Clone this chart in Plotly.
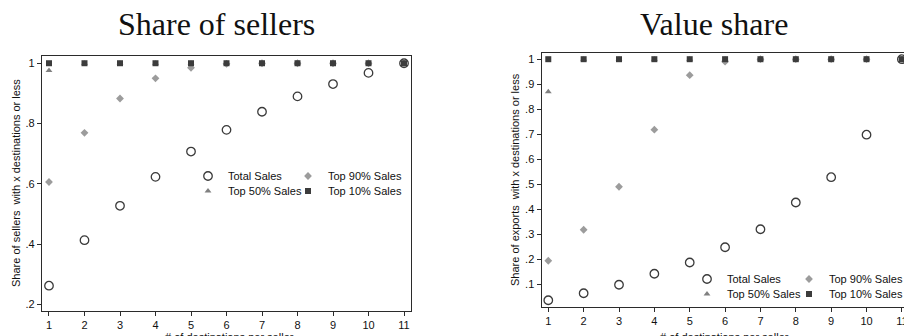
import plotly.graph_objects as go

W, H = 904, 336

# ---------------- data ----------------
x_dest = [1, 2, 3, 4, 5, 6, 7, 8, 9, 10, 11]

# Share of sellers
sell_total = [0.262, 0.413, 0.527, 0.623, 0.707, 0.779, 0.839, 0.890, 0.931, 0.968, 1.0]
sell_top90 = [0.606, 0.769, 0.883, 0.950, 0.985, 0.998, 1.0, 1.0, 1.0, 1.0, 1.0]
sell_top50 = [0.976, 1.0, 1.0, 1.0, 1.0, 1.0, 1.0, 1.0, 1.0, 1.0, 1.0]
sell_top10 = [1.0, 1.0, 1.0, 1.0, 1.0, 1.0, 1.0, 1.0, 1.0, 1.0, 1.0]

# Value share
val_total = [0.036, 0.064, 0.098, 0.142, 0.187, 0.248, 0.320, 0.427, 0.528, 0.698, 1.0]
val_top90 = [0.194, 0.318, 0.490, 0.718, 0.936, 0.990, 1.0, 1.0, 1.0, 1.0, 1.0]
val_top50 = [0.870, 1.0, 1.0, 1.0, 1.0, 1.0, 1.0, 1.0, 1.0, 1.0, 1.0]
val_top10 = [1.0, 1.0, 1.0, 1.0, 1.0, 1.0, 1.0, 1.0, 1.0, 1.0, 1.0]

series_names = ["Total Sales", "Top 90% Sales", "Top 50% Sales", "Top 10% Sales"]

left_yticks = [0.2, 0.4, 0.6, 0.8, 1.0]
left_yticktext = [".2", ".4", ".6", ".8", "1"]
right_yticks = [0.1, 0.2, 0.3, 0.4, 0.5, 0.6, 0.7, 0.8, 0.9, 1.0]
right_yticktext = [".1", ".2", ".3", ".4", ".5", ".6", ".7", ".8", ".9", "1"]

titles = ["Share of sellers", "Value share"]
ylabels = ["Share of sellers \u00a0with x destinations or less",
           "Share of exports \u00a0with x destinations or less"]
xlabel = "# of destinations per seller"

# ---------------- styles ----------------
SANS = "Liberation Sans, Arial, sans-serif"
SERIF = "Liberation Serif, Times New Roman, serif"
DARK = "#2b2b2b"

styles = [
    dict(symbol="circle-open", size=8.5, color="#3a3a3a", line=dict(width=1.3, color="#3a3a3a")),
    dict(symbol="diamond", size=6, color="#9c9c9c"),
    dict(symbol="triangle-up", size=6, color="#808080"),
    dict(symbol="square", size=6, color="#3c3c3c"),
]

def px_x(p):
    return p / W

def px_y(p):
    return 1 - p / H

fig = go.Figure()

# legend slots: (left px of legend box, row centre px)
legend_slots = [
    [(188, 176), (288, 176), (188, 191), (288, 191)],
    [(687, 279), (789, 279), (687, 294), (789, 294)],
]

panels = [
    dict(xa="x", ya="y", data=[sell_total, sell_top90, sell_top50, sell_top10]),
    dict(xa="x2", ya="y2", data=[val_total, val_top90, val_top50, val_top10]),
]

leg_common = dict(orientation="h", xanchor="left", yanchor="middle",
                  bgcolor="rgba(0,0,0,0)", borderwidth=0,
                  font=dict(family=SANS, size=11, color="#111"),
                  itemclick=False, itemdoubleclick=False)

legend_layout = {}
k = 0
for pi, p in enumerate(panels):
    for si, (name, ys, st) in enumerate(zip(series_names, p["data"], styles)):
        k += 1
        lname = "legend" if k == 1 else f"legend{k}"
        lx, ly = legend_slots[pi][si]
        legend_layout[lname] = dict(x=px_x(lx), y=px_y(ly), **leg_common)
        fig.add_trace(go.Scatter(
            x=x_dest, y=ys, mode="markers", name=name,
            marker=st, xaxis=p["xa"], yaxis=p["ya"],
            legend=lname, showlegend=True, cliponaxis=False,
        ))

axis_common = dict(
    showline=True, linecolor=DARK, linewidth=1.4, mirror=True,
    ticks="outside", ticklen=4, tickwidth=1, tickcolor=DARK,
    showgrid=False, zeroline=False,
    tickfont=dict(family=SANS, size=11, color="#111"),
)

fig.update_layout(
    width=W, height=H,
    margin=dict(l=0, r=0, t=0, b=0, autoexpand=False),
    paper_bgcolor="white", plot_bgcolor="white",
    font=dict(family=SANS, size=11, color="#111"),
    xaxis=dict(domain=[px_x(42), px_x(411)], range=[0.803, 11.197],
               tickvals=x_dest, anchor="y", **axis_common),
    yaxis=dict(domain=[px_y(311), px_y(56)], range=[0.178, 1.024],
               tickvals=left_yticks, ticktext=left_yticktext, anchor="x", **axis_common),
    xaxis2=dict(domain=[px_x(541.7), 1.0], range=[0.814, 11.06],
                tickvals=x_dest, anchor="y2", ticklabeloverflow="allow", **axis_common),
    yaxis2=dict(domain=[px_y(307), px_y(52.7)], range=[0.009, 1.026],
                tickvals=right_yticks, ticktext=right_yticktext, anchor="x2", **axis_common),
    **legend_layout,
)

# titles
for t, cx in zip(titles, [216, 714]):
    fig.add_annotation(text=t, x=px_x(cx), y=px_y(24), xref="paper", yref="paper",
                       xanchor="center", yanchor="middle", showarrow=False,
                       font=dict(family=SERIF, size=32, color="#111"))
# y labels
for t, cx, cy in zip(ylabels, [16, 515], [183, 180]):
    fig.add_annotation(text=t, x=px_x(cx), y=px_y(cy), xref="paper", yref="paper",
                       xanchor="center", yanchor="middle", textangle=-90, showarrow=False,
                       font=dict(family=SANS, size=11, color="#111"))
# x labels
for cx in [229.5, 724]:
    fig.add_annotation(text=xlabel, x=px_x(cx), y=px_y(329), xref="paper", yref="paper",
                       xanchor="center", yanchor="top", showarrow=False,
                       font=dict(family=SANS, size=11, color="#111"))

fig.write_html("out.html", config={"displayModeBar": False},
               post_script="document.body.style.margin='0';")
